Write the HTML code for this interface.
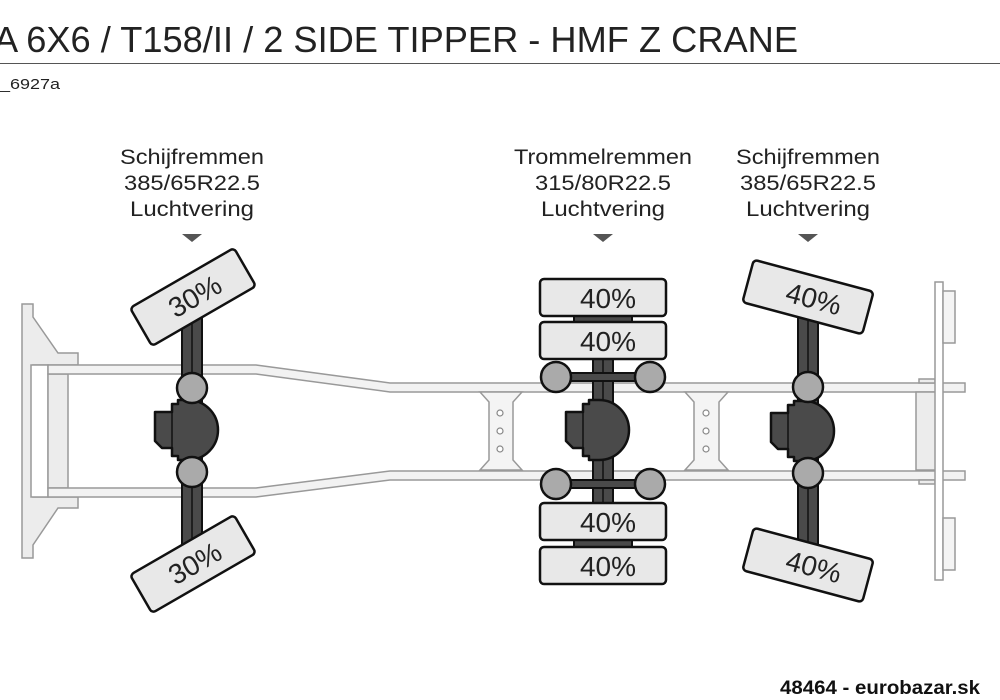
<!DOCTYPE html>
<html><head><meta charset="utf-8"><style>
html,body{margin:0;padding:0;background:#fff;}
svg{display:block;}
text{font-family:"Liberation Sans",sans-serif;}
</style></head><body>
<svg width="1000" height="700" viewBox="0 0 1000 700" xmlns="http://www.w3.org/2000/svg">
<defs>
<g id="diff">
<path d="M-37,-18 H-20 V-26 H-14 V-30 H-4 A30 30 0 0 1 -4,30 H-14 V26 H-20 V18 H-30 L-37,11 Z" fill="#4a4a4a" stroke="#111" stroke-width="2.5" stroke-linejoin="round"/>
<line x1="-20" y1="-18" x2="-20" y2="18" stroke="#111" stroke-width="1.5"/>
</g>
</defs>
<text x="-6" y="52" font-size="36" fill="#222" textLength="804" lengthAdjust="spacingAndGlyphs">A 6X6 / T158/II / 2 SIDE TIPPER - HMF Z CRANE</text>
<line x1="0" y1="63.5" x2="1000" y2="63.5" stroke="#555" stroke-width="1"/>
<text x="0" y="89" font-size="15" fill="#222" textLength="60" lengthAdjust="spacingAndGlyphs">_6927a</text>

<g font-size="21" fill="#222" text-anchor="middle">
<text x="192" y="164" textLength="144" lengthAdjust="spacingAndGlyphs">Schijfremmen</text><text x="192" y="190" textLength="136" lengthAdjust="spacingAndGlyphs">385/65R22.5</text><text x="192" y="216" textLength="124" lengthAdjust="spacingAndGlyphs">Luchtvering</text>
<text x="603" y="164" textLength="178" lengthAdjust="spacingAndGlyphs">Trommelremmen</text><text x="603" y="190" textLength="136" lengthAdjust="spacingAndGlyphs">315/80R22.5</text><text x="603" y="216" textLength="124" lengthAdjust="spacingAndGlyphs">Luchtvering</text>
<text x="808" y="164" textLength="144" lengthAdjust="spacingAndGlyphs">Schijfremmen</text><text x="808" y="190" textLength="136" lengthAdjust="spacingAndGlyphs">385/65R22.5</text><text x="808" y="216" textLength="124" lengthAdjust="spacingAndGlyphs">Luchtvering</text>
</g>
<g fill="#555"><path d="M182,234 h20 l-10,8z"/><path d="M593,234 h20 l-10,8z"/><path d="M798,234 h20 l-10,8z"/></g>

<!-- chassis -->
<g fill="#ececec" stroke="#999" stroke-width="1.5">
<path d="M22,304 H33 V317 L58,353 H78 V365 H33 V497 H78 V508 H58 L33,545 V558 H22 Z"/>
<rect x="31" y="365" width="17" height="132" fill="#fff"/>
<rect x="48" y="374" width="20" height="114"/>
<path d="M48,365 H256 L390,383 H965 V392 H390 L256,374 H48 Z" fill="#f2f2f2"/>
<path d="M48,488 H256 L390,471 H965 V480 H390 L256,497 H48 Z" fill="#f2f2f2"/>
<path d="M480,392 H522 L513,402 V460 L522,470 H480 L489,460 V402 Z" fill="#f4f4f4"/>
<path d="M685,392 H728 L719,402 V460 L728,470 H685 L694,460 V402 Z" fill="#f4f4f4"/>
<rect x="916" y="392" width="22" height="78"/>
<rect x="919" y="379" width="16" height="4"/>
<rect x="919" y="480" width="16" height="4"/>
<rect x="935" y="282" width="8" height="298" fill="#fff"/>
<rect x="943" y="291" width="12" height="52" fill="#f4f4f4"/>
<rect x="943" y="518" width="12" height="52" fill="#f4f4f4"/>
</g>
<g fill="#fff" stroke="#888" stroke-width="1.2">
<circle cx="500" cy="413" r="3"/><circle cx="500" cy="431" r="3"/><circle cx="500" cy="449" r="3"/>
<circle cx="706" cy="413" r="3"/><circle cx="706" cy="431" r="3"/><circle cx="706" cy="449" r="3"/>
</g>

<!-- axle 1 -->
<rect x="182" y="285" width="20" height="260" fill="#4a4a4a" stroke="#111" stroke-width="2"/>
<line x1="192" y1="285" x2="192" y2="545" stroke="#111" stroke-width="1.5"/>
<use href="#diff" x="192" y="430"/>
<circle cx="192" cy="388" r="15" fill="#aaa" stroke="#111" stroke-width="2.5"/>
<circle cx="192" cy="472" r="15" fill="#aaa" stroke="#111" stroke-width="2.5"/>
<g transform="translate(193,297) rotate(-30)"><rect x="-60" y="-22" width="120" height="44" rx="4" fill="#e8e8e8" stroke="#111" stroke-width="2.5"/><text x="2" y="10" font-size="28" text-anchor="middle" fill="#222">30%</text></g>
<g transform="translate(193,564) rotate(-30)"><rect x="-60" y="-22" width="120" height="44" rx="4" fill="#e8e8e8" stroke="#111" stroke-width="2.5"/><text x="2" y="10" font-size="28" text-anchor="middle" fill="#222">30%</text></g>

<!-- axle 2 -->
<rect x="574" y="310" width="58" height="14" fill="#4a4a4a" stroke="#111" stroke-width="2"/>
<rect x="574" y="535" width="58" height="14" fill="#4a4a4a" stroke="#111" stroke-width="2"/>
<rect x="593" y="355" width="20" height="152" fill="#4a4a4a" stroke="#111" stroke-width="2"/>
<line x1="603" y1="355" x2="603" y2="507" stroke="#111" stroke-width="1.5"/>
<use href="#diff" x="603" y="430"/>
<rect x="556" y="373" width="94" height="8" fill="#4a4a4a" stroke="#111" stroke-width="2"/>
<rect x="556" y="480" width="94" height="8" fill="#4a4a4a" stroke="#111" stroke-width="2"/>
<g fill="#aaa" stroke="#111" stroke-width="2.5">
<circle cx="556" cy="377" r="15"/><circle cx="650" cy="377" r="15"/>
<circle cx="556" cy="484" r="15"/><circle cx="650" cy="484" r="15"/>
</g>
<g fill="#e8e8e8" stroke="#111" stroke-width="2.5">
<rect x="540" y="279" width="126" height="37" rx="4"/>
<rect x="540" y="322" width="126" height="37" rx="4"/>
<rect x="540" y="503" width="126" height="37" rx="4"/>
<rect x="540" y="547" width="126" height="37" rx="4"/>
</g>
<g font-size="28" text-anchor="middle" fill="#222">
<text x="608" y="308">40%</text><text x="608" y="351">40%</text>
<text x="608" y="532">40%</text><text x="608" y="576">40%</text>
</g>

<!-- axle 3 -->
<rect x="798" y="285" width="20" height="260" fill="#4a4a4a" stroke="#111" stroke-width="2"/>
<line x1="808" y1="285" x2="808" y2="545" stroke="#111" stroke-width="1.5"/>
<use href="#diff" x="808" y="431"/>
<circle cx="808" cy="387" r="15" fill="#aaa" stroke="#111" stroke-width="2.5"/>
<circle cx="808" cy="473" r="15" fill="#aaa" stroke="#111" stroke-width="2.5"/>
<g transform="translate(808,297) rotate(15)"><rect x="-62" y="-22" width="124" height="44" rx="4" fill="#e8e8e8" stroke="#111" stroke-width="2.5"/><text x="6" y="10" font-size="28" text-anchor="middle" fill="#222">40%</text></g>
<g transform="translate(808,565) rotate(15)"><rect x="-62" y="-22" width="124" height="44" rx="4" fill="#e8e8e8" stroke="#111" stroke-width="2.5"/><text x="6" y="10" font-size="28" text-anchor="middle" fill="#222">40%</text></g>

<text x="780" y="694" font-size="19" font-weight="bold" fill="#111" textLength="200" lengthAdjust="spacingAndGlyphs">48464 - eurobazar.sk</text>
</svg>
</body></html>
